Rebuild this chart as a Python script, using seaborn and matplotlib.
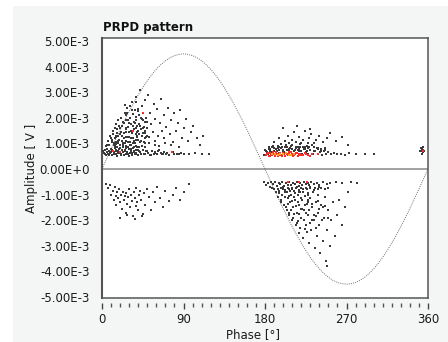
import numpy as np
import pandas as pd
import matplotlib
matplotlib.use("Agg")
import matplotlib.pyplot as plt
import seaborn as sns
from matplotlib.patches import Rectangle
from matplotlib.ticker import MultipleLocator

# ---------------- data (phase in degrees, amplitude in mV) ----------------
# reference sine (at 5 degree steps)
sine_phase = list(range(0, 361, 5))
sine_mv = [0.0, 0.39, 0.78, 1.16, 1.54, 1.90, 2.25, 2.58, 2.89, 3.18, 3.45, 3.69, 3.90, 4.08, 4.23, 4.35, 4.43, 4.48, 4.50,
           4.48, 4.43, 4.35, 4.23, 4.08, 3.90, 3.69, 3.45, 3.18, 2.89, 2.58, 2.25, 1.90, 1.54, 1.16, 0.78, 0.39, 0.0,
           -0.39, -0.78, -1.16, -1.54, -1.90, -2.25, -2.58, -2.89, -3.18, -3.45, -3.69, -3.90, -4.08, -4.23, -4.35, -4.43, -4.48, -4.50,
           -4.48, -4.43, -4.35, -4.23, -4.08, -3.90, -3.69, -3.45, -3.18, -2.89, -2.58, -2.25, -1.90, -1.54, -1.16, -0.78, -0.39, 0.0]

# cluster A, positive half-cycle (base band + triangle)
a_pos_phase = [2, 3, 4, 5, 6, 7, 8, 9, 10, 11, 12, 13, 14, 15, 16, 17, 18, 19, 20, 21, 22, 23, 24, 25, 26, 27, 28, 29, 30,
               31, 32, 33, 34, 35, 36, 37, 38, 39, 40, 41, 43, 45, 47, 49, 51, 53, 55, 57, 59, 61, 63, 65, 67, 69, 71,
               74, 77, 80, 83, 87, 91, 96, 103, 110, 118,
               5, 7, 9, 11, 12, 14, 15, 16, 17, 18, 19, 20,
               21, 22, 23, 24, 25, 26, 27, 28, 29, 30, 31, 32, 33, 34, 35,
               36, 37, 38, 39, 40, 41, 42, 43, 44, 45, 46, 47, 48, 49, 50,
               51, 52, 53, 54, 56, 57, 58, 59, 61, 62, 64, 65, 66, 68, 69,
               71, 73, 75, 76, 78, 80, 82, 84, 86, 88, 90, 93, 95, 98, 101, 105, 108, 112,
               13, 16, 18, 20, 22, 24, 26, 27, 29, 30, 32, 33, 34, 36, 37, 38, 39, 40, 41, 42, 43, 44, 45, 47, 48, 50,
               4, 8, 10, 14, 18, 23, 27, 31, 35, 39, 44, 52, 58, 63, 70, 76, 85]
a_pos_mv = [0.62, 0.75, 0.55, 0.68, 0.80, 0.58, 0.70, 0.63, 0.78, 0.56, 0.72, 0.66, 0.84, 0.60, 0.74, 0.52, 0.69, 0.80, 0.62,
            0.58, 0.76, 0.65, 0.55, 0.71, 0.83, 0.60, 0.67, 0.57, 0.78, 0.63, 0.70, 0.54, 0.81, 0.66, 0.59, 0.73, 0.62,
            0.85, 0.56, 0.69, 0.60, 0.75, 0.58, 0.70, 0.63, 0.55, 0.72, 0.60, 0.67, 0.57, 0.74, 0.62, 0.58, 0.68, 0.60,
            0.56, 0.65, 0.60, 0.58, 0.62, 0.60, 0.57, 0.62, 0.60, 0.58,
            0.95, 1.10, 1.30, 1.05, 1.50, 1.20, 1.75, 0.98, 1.40, 1.90, 1.15, 1.60,
            2.00, 1.30, 1.00, 1.80, 2.20, 1.45, 1.10, 2.40, 1.65, 1.25, 2.00, 1.50, 2.60, 1.00, 1.85,
            2.30, 1.35, 2.80, 1.70, 1.15, 2.10, 3.10, 1.55, 2.45, 1.90, 1.05, 2.70, 1.40, 2.00, 1.60,
            2.90, 1.25, 2.20, 1.75, 1.45, 2.55, 1.10, 1.95, 2.35, 1.30, 1.80, 2.75, 1.50, 2.10, 1.20,
            1.65, 2.40, 1.35, 1.90, 1.05, 2.20, 1.50, 1.80, 2.30, 1.20, 1.60, 1.95, 1.10, 1.45, 1.70, 1.20, 0.95, 1.30,
            1.00, 1.30, 1.10, 1.35, 1.70, 1.20, 1.90, 1.55, 1.05, 1.80, 1.20, 1.40, 1.70, 1.00, 1.60, 1.90, 1.25, 1.50,
            1.75, 1.05, 2.00, 1.30, 1.60, 1.20, 1.85, 1.30,
            0.90, 0.95, 1.20, 0.90, 1.00, 0.92, 1.25, 0.95, 1.10, 1.30, 0.90, 1.00, 0.95, 0.90, 1.00, 0.92, 0.88]

# dense core of cluster A
a_core_phase = [11, 12, 13, 14, 15, 16, 17, 18, 19, 20, 21, 22, 23, 24, 25, 26, 27, 28, 29, 30,
                31, 32, 33, 34, 35, 36, 37, 38, 39, 40, 41, 42, 43, 44, 45, 46, 47, 48, 49, 50,
                14, 17, 20, 23, 26, 29, 32, 35, 38, 41, 44, 47, 25, 28, 31, 34, 37, 40]
a_core_mv = [1.15, 1.35, 0.95, 1.60, 1.25, 1.05, 1.55, 1.30, 1.70, 0.92, 1.45, 1.10, 1.85, 1.40, 1.00, 1.60, 2.10, 1.25,
             1.90, 1.45, 1.05, 1.75, 2.30, 1.20, 1.55, 1.80, 2.05, 1.15, 1.45, 2.25, 1.35, 1.70, 1.10, 1.95, 1.40, 1.65,
             1.00, 1.50, 1.25, 1.85, 0.85, 0.88, 0.92, 0.86, 0.90, 0.88, 0.92, 0.85, 0.90, 0.87, 0.90, 0.86,
             2.50, 2.20, 2.45, 2.15, 2.60, 2.35]
a_band_phase = [1.5, 3.5, 5.5, 7.5, 9.5, 11.5, 13.5, 15.5, 17.5, 19.5, 21.5, 23.5, 25.5, 27.5, 29.5, 31.5, 33.5, 35.5,
                37.5, 39.5, 42, 46, 50, 54, 58, 62, 66, 72, 78, 85]
a_band_mv = [0.72, 0.60, 0.80, 0.54, 0.66, 0.76, 0.58, 0.70, 0.62, 0.82, 0.56, 0.68, 0.74, 0.60, 0.52, 0.78, 0.64, 0.70,
             0.57, 0.73, 0.66, 0.60, 0.72, 0.56, 0.64, 0.70, 0.58, 0.62, 0.66, 0.60]

# cluster A, negative amplitudes
a_neg_phase = [4, 7, 9, 10, 12, 13, 14, 15, 16, 17, 18, 19, 20, 21, 22, 23, 24, 25, 26, 27, 28, 29, 30, 31, 32, 33, 34,
               35, 36, 37, 38, 39, 40, 41, 42, 43, 45, 46, 48, 50, 52, 54, 56, 58, 61, 64, 67, 70, 74, 78, 82, 86, 90,
               96, 20, 28, 36, 44]
a_neg_mv = [-0.60, -0.75, -0.62, -1.00, -0.85, -1.20, -0.70, -1.05, -1.40, -0.90, -1.15, -0.78, -1.30, -1.00, -1.55,
            -0.88, -1.20, -1.05, -1.70, -0.95, -1.35, -1.10, -0.80, -1.50, -1.00, -1.25, -1.85, -0.90, -1.15, -1.45,
            -0.75, -1.30, -1.60, -1.00, -0.85, -1.20, -1.75, -0.95, -1.40, -0.80, -1.10, -1.60, -0.90, -1.30, -0.70,
            -1.15, -1.50, -0.85, -1.25, -1.00, -0.75, -1.20, -0.90, -0.60, -1.90, -1.80, -1.95, -1.85]

# cluster B, positive amplitudes
b_pos_phase = [179, 181, 183, 185, 186, 188, 190, 191, 193, 195, 196, 198, 200, 201, 203, 205, 206, 208, 210, 211, 213,
               215, 216, 218, 220, 221, 223, 225, 226, 228, 230, 232, 233, 235, 237, 239, 241, 243, 245, 247, 250, 253,
               256, 260, 264, 268, 273, 280, 290, 300,
               190, 195, 198, 202, 205, 207, 210, 212, 214, 217, 219, 222, 224, 227, 229, 231, 234, 236, 240, 244, 248,
               252, 258, 265, 272, 200, 215, 230,
               184, 189, 194, 199, 204, 209, 214, 219, 224, 229, 234, 238, 242, 246]
b_pos_mv = [0.55, 0.70, 0.60, 0.78, 0.50, 0.66, 0.82, 0.58, 0.72, 0.62, 0.88, 0.54, 0.75, 0.65, 0.92, 0.58, 0.80, 0.68,
            0.95, 0.55, 0.76, 0.62, 0.86, 0.70, 1.00, 0.57, 0.80, 0.65, 0.90, 0.60, 0.74, 0.95, 0.58, 0.70, 0.82, 0.60,
            0.68, 0.55, 0.72, 0.60, 0.66, 0.57, 0.62, 0.58, 0.60, 0.56, 0.62, 0.58, 0.60, 0.57,
            1.05, 1.20, 0.98, 1.10, 1.30, 1.00, 1.15, 1.45, 1.05, 1.25, 0.98, 1.12, 1.50, 1.02, 1.20, 1.35, 1.00, 1.15,
            1.30, 1.05, 1.20, 1.40, 1.10, 1.25, 0.95, 1.60, 1.70, 1.55,
            0.85, 0.90, 0.84, 0.88, 0.86, 0.90, 0.84, 0.88, 0.86, 0.85, 0.88, 0.82, 0.80, 0.84]
b_band_phase = [180, 182, 184, 186, 188, 190, 192, 194, 196, 198, 200, 202, 204, 206, 208, 210, 212, 214, 216, 218,
                220, 222, 224, 226, 228, 230, 234, 238, 242, 246]
b_band_mv = [0.75, 0.68, 0.80, 0.72, 0.85, 0.70, 0.78, 0.90, 0.74, 0.82, 0.70, 0.86, 0.76, 0.72, 0.84, 0.78, 0.70, 0.88,
             0.75, 0.80, 0.72, 0.86, 0.78, 0.70, 0.82, 0.76, 0.72, 0.80, 0.70, 0.75]

# cluster B, negative amplitudes
b_neg_phase = [179, 181, 183, 185, 187, 189, 191, 193, 195, 197, 199, 201, 203, 205, 207, 209, 211, 213, 215, 217, 219,
               221, 223, 225, 227, 229, 231, 234, 237, 240, 244, 248, 252, 258, 265, 275, 282,
               188, 192, 194, 196, 198, 199, 201, 202, 204, 205, 206, 207, 208, 209, 210, 211, 212, 213, 214, 215, 216,
               217, 218, 219, 220, 221, 222, 223, 224, 225, 226, 227, 228, 229, 230, 231, 232, 233, 234, 235, 236, 237,
               238, 239, 240, 241, 242, 244, 245, 246, 247, 248, 250, 252, 253, 255, 257, 259, 262, 265, 268, 272,
               212, 216, 220, 224, 228, 232, 236, 244, 249,
               186, 190, 194, 198, 202, 206, 210, 214, 218, 222, 226, 230, 234, 238, 242, 246, 250]
b_neg_mv = [-0.50, -0.62, -0.55, -0.70, -0.50, -0.60, -0.52, -0.66, -0.55, -0.60, -0.50, -0.68, -0.56, -0.62, -0.50,
            -0.64, -0.55, -0.60, -0.50, -0.66, -0.56, -0.62, -0.52, -0.60, -0.55, -0.64, -0.50, -0.60, -0.55, -0.62,
            -0.52, -0.60, -0.55, -0.52, -0.55, -0.50, -0.55,
            -0.75, -0.90, -1.10, -0.85, -1.20, -1.00, -1.40, -0.90, -1.60, -1.15, -0.80, -1.80, -1.30, -1.00, -2.00,
            -1.50, -0.85, -1.20, -2.20, -1.70, -1.00, -1.40, -2.50, -0.90, -1.90, -1.20, -2.70, -1.60, -1.05, -2.20,
            -1.35, -0.95, -1.80, -2.90, -1.15, -2.40, -1.50, -0.90, -2.00, -3.10, -1.30, -2.60, -1.70, -1.00, -2.20,
            -3.30, -1.40, -2.80, -1.90, -1.10, -3.60, -2.40, -1.60, -3.00, -2.00, -1.30, -2.60, -1.80, -1.20, -2.20,
            -1.50, -0.90,
            -1.75, -2.05, -1.55, -2.35, -1.30, -2.00, -1.85, -1.50, -3.80,
            -0.72, -0.78, -0.80, -0.76, -0.82, -0.78, -0.80, -0.75, -0.82, -0.78, -0.80, -0.76, -0.82, -0.78, -0.74,
            -0.80, -0.76]
b_body_phase = [196, 198, 200, 202, 203, 204, 205, 206, 207, 208, 209, 210, 211, 212, 213, 214, 215, 216, 217, 218,
                219, 220, 221, 222, 223, 224, 225, 226, 227, 228, 229, 230, 232, 234, 236, 238, 240, 243, 246, 250,
                200, 205, 210, 215, 220, 225, 230, 235, 240]
b_body_mv = [-0.95, -1.30, -0.80, -1.10, -1.50, -0.90, -1.35, -1.70, -1.05, -0.85, -1.60, -1.25, -1.90, -1.10, -0.95,
             -1.45, -2.10, -1.30, -0.90, -1.75, -2.30, -1.15, -1.55, -0.88, -2.00, -1.40, -1.70, -2.45, -1.20, -1.00,
             -1.60, -2.10, -1.35, -1.80, -2.30, -1.25, -1.55, -2.00, -1.45, -1.90,
             -0.72, -0.76, -0.74, -0.70, -0.75, -0.73, -0.72, -0.76, -0.70]

# small cluster near 355 degrees
c_phase = [352, 353, 354, 355, 353, 356, 352, 354, 351]
c_mv = [0.70, 0.78, 0.65, 0.74, 0.60, 0.70, 0.82, 0.88, 0.72]

# high-count (red) and highest-count (orange) points
red_phase = [20, 34, 45, 77, 12, 181, 183, 185, 187, 189, 191, 193, 195, 197, 199, 201, 203, 205, 207, 209, 211, 213,
             215, 217, 219, 222, 225, 228, 232, 238, 205, 218, 226, 354,
             182, 184, 186, 188, 190, 192, 194, 196, 198, 200, 202, 204, 206, 208, 210, 212, 214, 216, 218, 220, 224,
             227, 230]
red_mv = [0.66, 1.50, 2.20, 0.66, 0.70, 0.55, 0.62, 0.50, 0.58, 0.66, 0.52, 0.60, 0.56, 0.64, 0.50, 0.58, 0.62, 0.54,
          0.60, 0.66, 0.52, 0.58, 0.62, 0.55, 0.60, 0.53, 0.60, 0.56, 0.60, 0.58, -0.50, -0.52, -0.50, 0.70,
          0.60, 0.52, 0.64, 0.55, 0.60, 0.66, 0.52, 0.60, 0.56, 0.64, 0.50, 0.60, 0.66, 0.54, 0.60, 0.56, 0.64, 0.52,
          0.60, 0.56, 0.62, 0.55, 0.52]
orange_phase = [188, 191, 194, 197, 200, 203, 206, 209, 212]
orange_mv = [0.58, 0.60, 0.55, 0.57, 0.60, 0.62, 0.56, 0.55, 0.60]

# ---------------- build tables ----------------
def frame(ph, mv):
    return pd.DataFrame({"phase": ph, "amp": np.asarray(mv) * 1e-3})

gray_df = pd.concat([frame(a_pos_phase, a_pos_mv), frame(a_core_phase, a_core_mv),
                     frame(a_band_phase, a_band_mv), frame(a_neg_phase, a_neg_mv),
                     frame(b_pos_phase, b_pos_mv), frame(b_band_phase, b_band_mv),
                     frame(b_neg_phase, b_neg_mv), frame(b_body_phase, b_body_mv),
                     frame(c_phase, c_mv)], ignore_index=True)
red_df = frame(red_phase, red_mv)
orange_df = frame(orange_phase, orange_mv)
sine_df = frame(sine_phase, sine_mv)

# ---------------- figure ----------------
sns.set_theme(style="white")
plt.rcParams["font.family"] = ["DejaVu Sans"]

W, H = 448, 342
fig = plt.figure(figsize=(W / 100, H / 100), dpi=100)
fig.patch.set_facecolor("white")
fig.add_artist(Rectangle((13 / W, 0), 1 - 13 / W, 1 - 6 / H, transform=fig.transFigure,
                         facecolor="#f4f6f6", edgecolor="none", zorder=-10))

ax_l, ax_r, ax_t, ax_b = 102, 428, 38, 298
ax = fig.add_axes([ax_l / W, 1 - ax_b / H, (ax_r - ax_l) / W, (ax_b - ax_t) / H])
ax.set_facecolor("white")

sns.lineplot(data=sine_df, x="phase", y="amp", ax=ax, color="#6e6e6e", linewidth=0.7,
             linestyle=(0, (1, 1.2)), zorder=2)
sns.scatterplot(data=gray_df, x="phase", y="amp", ax=ax, color="#3a3a3a", marker="s", s=1.8,
                linewidth=0, zorder=3)
sns.scatterplot(data=red_df, x="phase", y="amp", ax=ax, color="#ff2a2a", marker="s", s=2.6,
                linewidth=0, zorder=4)
sns.scatterplot(data=orange_df, x="phase", y="amp", ax=ax, color="#ffa31a", marker="s", s=2.6,
                linewidth=0, zorder=5)
ax.axhline(0, color="#9a9a9a", linewidth=1.3, zorder=1)

ax.set_xlim(0, 360)
ax.set_ylim(-5.04e-3, 5.12e-3)
ax.set_xlabel("")
ax.set_ylabel("")

yticks = [5e-3, 4e-3, 3e-3, 2e-3, 1e-3, 0.0, -1e-3, -2e-3, -3e-3, -4e-3, -5e-3]
ytick_labels = ["5.00E-3", "4.00E-3", "3.00E-3", "2.00E-3", "1.00E-3", "0.00E+0",
                "-1.00E-3", "-2.00E-3", "-3.00E-3", "-4.00E-3", "-5.00E-3"]
ax.set_yticks(yticks)
ax.set_yticklabels(ytick_labels)
ax.tick_params(axis="y", length=0, pad=9, labelsize=8.5, labelcolor="#1a1a1a")
ax.tick_params(axis="x", bottom=False, labelbottom=False)

for s in ax.spines.values():
    s.set_visible(True)
    s.set_color("#555555")
    s.set_linewidth(1.1)
ax.spines["left"].set_linewidth(1.5)

# detached x tick row below the frame
sec = ax.secondary_xaxis(location=-0.019)
sec.spines["bottom"].set_visible(False)
xticks = [0, 90, 180, 270, 360]
sec.set_xticks(xticks)
sec.set_xticklabels([str(t) for t in xticks])
sec.xaxis.set_minor_locator(MultipleLocator(10))
sec.tick_params(axis="x", which="major", direction="out", length=4.5, width=1.0, color="#444444",
                pad=3, labelsize=8.5, labelcolor="#1a1a1a")
sec.tick_params(axis="x", which="minor", direction="out", length=3, width=1.0, color="#555555")

fig.text(103 / W, 1 - 28 / H, "PRPD pattern", ha="left", va="center", fontsize=8.5, fontweight="bold",
         color="#111111")
fig.text(31 / W, 1 - 168 / H, "Amplitude [ V ]", ha="center", va="center", rotation=90, fontsize=8.5,
         color="#1a1a1a")
fig.text(253 / W, 1 - 335 / H, "Phase [°]", ha="center", va="center", fontsize=8.5, color="#1a1a1a")

fig.savefig("out.png", dpi=100, facecolor=fig.get_facecolor())
